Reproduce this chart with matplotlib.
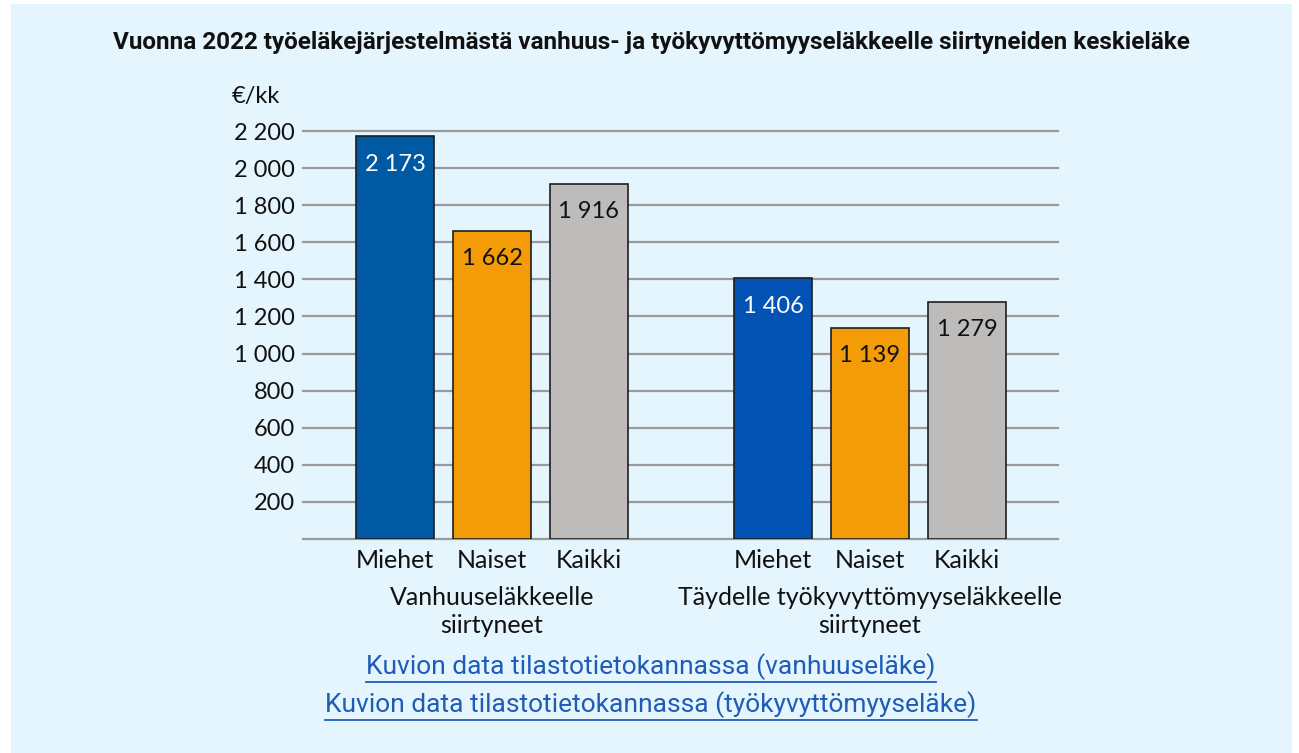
import matplotlib
matplotlib.use('Agg')
import matplotlib.pyplot as plt
from matplotlib.patches import Rectangle
from matplotlib.lines import Line2D

plt.rcParams['font.family'] = ['Lato', 'DejaVu Sans']

# data
categories = ['Miehet', 'Naiset', 'Kaikki']
groups = ['Vanhuuseläkkeelle\nsiirtyneet', 'Täydelle työkyvyttömyyseläkkeelle\nsiirtyneet']
vanhuus = [2173, 1662, 1916]
tyokyvyttomyys = [1406, 1139, 1279]
yticks = [200, 400, 600, 800, 1000, 1200, 1400, 1600, 1800, 2000, 2200]
title = 'Vuonna 2022 työeläkejärjestelmästä vanhuus- ja työkyvyttömyyseläkkeelle siirtyneiden keskieläke'
links = ['Kuvion data tilastotietokannassa (vanhuuseläke)',
         'Kuvion data tilastotietokannassa (työkyvyttömyyseläke)']

colors1 = ['#0059a3', '#f39c07', '#bdbcbb']
colors2 = ['#0353b5', '#f39c07', '#bdbcbb']
label_colors = ['white', '#111111', '#111111']

W, H = 1299, 753
fig = plt.figure(figsize=(W / 100, H / 100), dpi=100)
fig.patch.set_facecolor('white')
fig.add_artist(Rectangle((11 / W, 0), (1292 - 11) / W, (H - 4) / H,
                         transform=fig.transFigure, facecolor='#e5f5fd',
                         edgecolor='none', zorder=0))

ax = fig.add_axes([303 / W, (H - 539) / H, (1058 - 303) / W, (539 - 131) / H])
ax.set_facecolor('none')

pos1 = [0, 1, 2]
pos2 = [3.9, 4.9, 5.9]
bw = 0.8

for y in [0] + yticks:
    ax.axhline(y, color='#9a9a9a', lw=1.6, zorder=1, clip_on=False)

for pos, vals, cols in [(pos1, vanhuus, colors1), (pos2, tyokyvyttomyys, colors2)]:
    bars = ax.bar(pos, vals, width=bw, color=cols, edgecolor='#1e1e1e', lw=1.2, zorder=3)
    for b, v, lc in zip(bars, vals, label_colors):
        ax.annotate(f'{v:,}'.replace(',', ' '), (b.get_x() + b.get_width() / 2, v),
                    xytext=(0, -28), textcoords='offset pixels', ha='center', va='center',
                    fontsize=17, color=lc, zorder=4)

ax.set_xlim(-0.95, 6.84)
ax.set_ylim(0, 2200)
ax.set_yticks(yticks)
ax.set_yticklabels([f'{t:,}'.replace(',', ' ') for t in yticks], fontsize=17, color='#111111')
ax.set_xticks(pos1 + pos2)
ax.set_xticklabels(categories * 2, fontsize=18, color='#111111')
ax.tick_params(axis='y', length=0, pad=6)
ax.tick_params(axis='x', length=0, pad=7)
for s in ax.spines.values():
    s.set_visible(False)

for pos, g in zip([pos1, pos2], groups):
    ax.text(pos[1], -0.115, g, transform=ax.get_xaxis_transform(), ha='center', va='top',
            fontsize=18, color='#111111', linespacing=1.25)

ax.text(-0.095, 1.085, '€/kk', transform=ax.transAxes, ha='left', va='center',
        fontsize=17, color='#111111')

fig.text(651 / W, (H - 42) / H, title, ha='center', va='center', fontsize=17.5,
         fontweight='bold', family=['Roboto', 'DejaVu Sans'], color='#111111')

link_texts = []
for i, t in enumerate(links):
    lt = fig.text(651 / W, (H - 667 - 38 * i) / H, t, ha='center', va='center', fontsize=19,
                  family=['Roboto', 'DejaVu Sans'], color='#1f5cb8')
    link_texts.append(lt)

fig.canvas.draw()
r = fig.canvas.get_renderer()
for lt in link_texts:
    bb = lt.get_window_extent(renderer=r)
    yl = (bb.y0 - 2) / H
    fig.add_artist(Line2D([bb.x0 / W, bb.x1 / W], [yl, yl], transform=fig.transFigure,
                          color='#1f5cb8', lw=1.3))

fig.savefig('out.png', dpi=100, facecolor=fig.get_facecolor())
